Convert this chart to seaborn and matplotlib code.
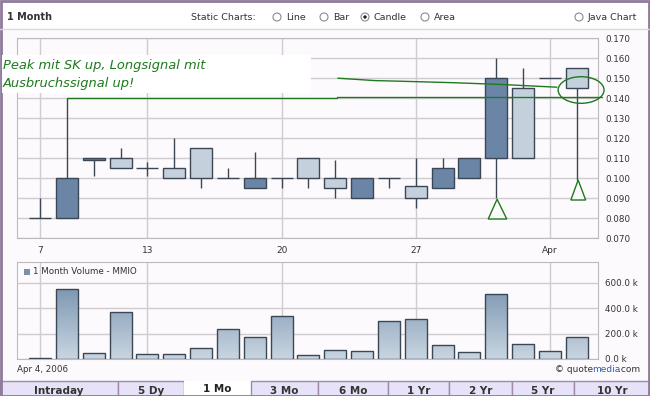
import numpy as np
import pandas as pd
import seaborn as sns
import matplotlib.pyplot as plt
from matplotlib.patches import Rectangle, Ellipse, Circle, Polygon
from matplotlib.colors import LinearSegmentedColormap

# trading days, 1 month of MMIO
days = ["Mar 7", "Mar 8", "Mar 9", "Mar 10", "Mar 13", "Mar 14", "Mar 15", "Mar 16",
        "Mar 17", "Mar 20", "Mar 21", "Mar 22", "Mar 23", "Mar 24", "Mar 27", "Mar 28",
        "Mar 29", "Mar 30", "Mar 31", "Apr 3", "Apr 4"]
opens  = [0.080, 0.080, 0.109, 0.110, 0.105, 0.105, 0.115, 0.100, 0.095, 0.100, 0.110,
          0.100, 0.090, 0.100, 0.096, 0.095, 0.100, 0.110, 0.145, 0.150, 0.155]
highs  = [0.090, 0.140, 0.110, 0.115, 0.108, 0.120, 0.115, 0.105, 0.113, 0.100, 0.110,
          0.109, 0.100, 0.100, 0.110, 0.110, 0.110, 0.160, 0.155, 0.150, 0.155]
lows   = [0.080, 0.080, 0.101, 0.105, 0.101, 0.100, 0.095, 0.100, 0.095, 0.095, 0.095,
          0.090, 0.090, 0.095, 0.085, 0.095, 0.100, 0.090, 0.110, 0.150, 0.099]
closes = [0.080, 0.100, 0.110, 0.105, 0.105, 0.100, 0.100, 0.100, 0.100, 0.100, 0.100,
          0.095, 0.100, 0.100, 0.090, 0.105, 0.110, 0.150, 0.110, 0.150, 0.145]
volume = [8, 553, 47, 371, 39, 39, 87, 237, 174, 340, 32,
          69, 63, 300, 316, 111, 55, 513, 118, 63, 174]   # thousands
date_ticks = [0, 4, 9, 14, 19]
date_labels = ["7", "13", "20", "27", "Apr"]
price_ticks = [0.07, 0.08, 0.09, 0.10, 0.11, 0.12, 0.13, 0.14, 0.15, 0.16, 0.17]
vol_ticks = [0, 200, 400, 600]

# hand drawn annotation (in chart coordinates)
note_lines = ["Peak mit SK up, Longsignal mit", "Ausbruchssignal up!"]
trend_x = [11.10, 12.48, 13.41, 15.28, 17.14, 19.26]
trend_y = [0.1499, 0.1487, 0.1484, 0.1477, 0.1468, 0.1454]

df = pd.DataFrame({"day": days, "open": opens, "high": highs, "low": lows,
                   "close": closes, "volume": volume})
df["idx"] = np.arange(len(df))

sns.set_style("white")
plt.rcParams["font.family"] = ["DejaVu Sans"]

dark = "#6b85a7"
light = "#c4d0dc"
edge = "#3b4754"
grid_c = "#cfcbd0"
green = "#1e7a1e"
txt = "#333333"
bgc = "#fdfafd"

fig = plt.figure(figsize=(6.5, 3.96), dpi=100)
fig.patch.set_facecolor(bgc)

# page furniture in pixel coordinates
bg = fig.add_axes([0, 0, 1, 1], zorder=0)
bg.set_xlim(0, 650)
bg.set_ylim(396, 0)
bg.axis("off")
bg.add_patch(Rectangle((0, 0), 650, 29, fc="white", ec="none"))
bg.plot([0, 650], [29, 29], color="#ddd6e0", lw=1)
bg.text(7, 17, "1 Month", fontsize=7, fontweight="bold", color=txt, va="center")
bg.text(191, 17, "Static Charts:", fontsize=6.8, color=txt, va="center")
radios = [(273, "Line", False), (320, "Bar", False), (361, "Candle", True),
          (421, "Area", False), (575, "Java Chart", False)]
for rx, lab, sel in radios:
    bg.add_patch(Circle((rx + 4, 17), 4.0, fc="white", ec="#8d8d8d", lw=0.8))
    if sel:
        bg.add_patch(Circle((rx + 4, 17), 1.7, fc="#222222", ec="none"))
    bg.text(rx + 13, 17, lab, fontsize=6.8, color=txt, va="center")

tabs = [("Intraday", 0, 118), ("5 Dy", 118, 184), ("1 Mo", 184, 251), ("3 Mo", 251, 318),
        ("6 Mo", 318, 388), ("1 Yr", 388, 449), ("2 Yr", 449, 512), ("5 Yr", 512, 574),
        ("10 Yr", 574, 650)]
for lab, x0, x1 in tabs:
    if lab == "1 Mo":
        bg.add_patch(Rectangle((x0, 381), x1 - x0, 15, fc="white", ec="none"))
        bg.text((x0 + x1) / 2, 388.5, lab, fontsize=7.5, fontweight="bold", color="#222222",
                ha="center", va="center")
    else:
        bg.add_patch(Rectangle((x0, 381), x1 - x0, 15, fc="#e7e2f7", ec="#9f8aae", lw=1))
        bg.text((x0 + x1) / 2, 390.5, lab, fontsize=7.5, fontweight="bold", color="#333333",
                ha="center", va="center")
bg.add_patch(Rectangle((0.8, 0.5), 648.4, 395, fill=False, ec="#8f7a9c", lw=2))

bg.text(17, 370, "Apr 4, 2006", fontsize=6.3, color=txt, va="center")
bg.text(555, 370, "\u00a9 quote", fontsize=6.5, color=txt, va="center")
bg.text(592, 370, "media", fontsize=6.5, color="#2f5fb3", va="center")
bg.text(618, 370, ".com", fontsize=6.5, color=txt, va="center")

# price panel
ax = fig.add_axes([17 / 650, 1 - 238 / 396, 581 / 650, 200 / 396], zorder=1)
ax.set_facecolor(bgc)
up = df["close"] >= df["open"]
ax.vlines(df["idx"], df["low"], df["high"], color=edge, lw=1, zorder=3)
body = df[df["open"] != df["close"]]
ax.bar(body["idx"], (body["close"] - body["open"]).abs(),
       bottom=body[["open", "close"]].min(axis=1), width=0.82,
       color=[dark if u else light for u in up[body.index]],
       edgecolor=edge, linewidth=1, zorder=4)
doji = df[df["open"] == df["close"]]
ax.hlines(doji["open"], doji["idx"] - 0.41, doji["idx"] + 0.41, color=edge, lw=1, zorder=4)

ax.set_xlim(-0.857, 20.79)
ax.set_ylim(0.07, 0.17)
ax.set_yticks(price_ticks)
ax.set_yticklabels([f"{v:.3f}" for v in price_ticks])
ax.yaxis.tick_right()
ax.set_xticks(date_ticks)
ax.set_xticklabels(date_labels)
ax.set_xticks(df["idx"], minor=True)
ax.tick_params(axis="y", length=0, pad=5, labelsize=6.3, labelcolor=txt)
ax.tick_params(axis="x", which="both", length=3, width=0.8, color="#555555",
               pad=3, labelsize=6.5, labelcolor=txt)
ax.grid(True, axis="y", color=grid_c, lw=1)
ax.grid(True, axis="x", which="major", color=grid_c, lw=1)
ax.set_axisbelow(True)
for s in ax.spines.values():
    s.set_color("#bdbabe")

# green annotation
ax.plot([1.0, 11.05], [0.1400, 0.1400], color=green, lw=1, zorder=5, clip_on=False)
ax.plot([11.05, 20.95], [0.1405, 0.1405], color=green, lw=1, zorder=5, clip_on=False)
ax.plot(trend_x, trend_y, color=green, lw=1, zorder=5)
ax.add_patch(Ellipse((20.16, 0.1440), 1.71, 0.0133, fill=False, ec=green, lw=1,
                     zorder=6, clip_on=False))
ax.add_patch(Polygon([[17.03, 0.0894], [16.70, 0.0795], [17.39, 0.0795]], closed=True,
                     fc=bgc, ec=green, lw=1, zorder=6))
ax.add_patch(Polygon([[20.05, 0.0990], [19.78, 0.0890], [20.33, 0.0890]], closed=True,
                     fc=bgc, ec=green, lw=1, zorder=6))

# volume panel
axv = fig.add_axes([17 / 650, 1 - 359 / 396, 581 / 650, 97 / 396], zorder=1)
axv.set_facecolor(bgc)
sns.barplot(data=df, x="day", y="volume", order=days, ax=axv, width=0.82,
            color=light, saturation=1, edgecolor=edge, linewidth=1, zorder=3)
cmap = LinearSegmentedColormap.from_list("vol", ["#c9d5e1", "#7d97b2"])
grad = np.linspace(0, 1, 256).reshape(-1, 1)
for p in axv.patches:
    x0, w, h = p.get_x(), p.get_width(), p.get_height()
    p.set_facecolor("none")
    im = axv.imshow(grad, cmap=cmap, origin="lower", aspect="auto",
                    extent=[x0, x0 + w, 0, 560], zorder=2)
    im.set_clip_path(p)
axv.set_xlim(-0.857, 20.79)
axv.set_ylim(0, 765)
axv.set_xlabel("")
axv.set_ylabel("")
axv.set_xticks(date_ticks)
axv.set_xticklabels([])
axv.set_yticks(vol_ticks)
axv.set_yticklabels([f"{v:.1f} k" for v in vol_ticks])
axv.yaxis.tick_right()
axv.tick_params(axis="both", length=0)
axv.tick_params(axis="y", pad=5, labelsize=6.3, labelcolor=txt)
axv.grid(True, color=grid_c, lw=1)
axv.set_axisbelow(True)
for s in axv.spines.values():
    s.set_color("#bdbabe")

# overlay: note box and volume legend
ov = fig.add_axes([0, 0, 1, 1], zorder=10)
ov.set_xlim(0, 650)
ov.set_ylim(396, 0)
ov.axis("off")
ov.patch.set_alpha(0)
ov.add_patch(Rectangle((2, 55), 309, 38, fc="white", ec="none"))
ov.text(3, 66, note_lines[0], fontsize=9.4, style="italic", color=green, va="center")
ov.text(3, 83, note_lines[1], fontsize=9.4, style="italic", color=green, va="center")
ov.add_patch(Rectangle((23.5, 268.5), 6, 6, fc="#7990a8", ec="none"))
ov.text(33, 272, "1 Month Volume - MMIO", fontsize=6.3, color=txt, va="center")

fig.savefig("out.png", dpi=100, facecolor=fig.get_facecolor())
